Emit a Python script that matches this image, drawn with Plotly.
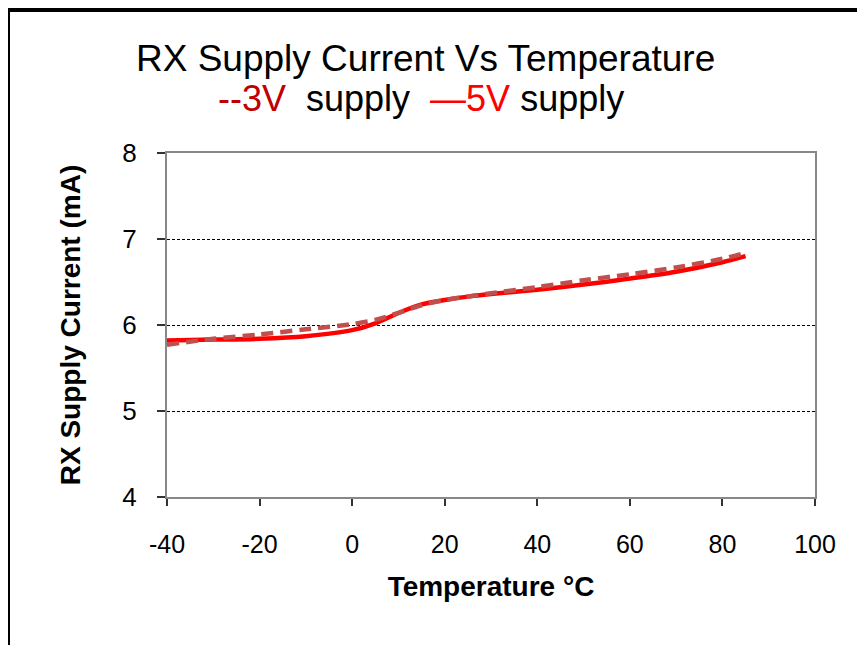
import plotly.graph_objects as go

temps = [-40, -30, -20, -10, 0, 5, 10, 15, 20, 25, 30, 40, 50, 60, 70, 80, 85]
supply_5v = [5.82, 5.83, 5.84, 5.87, 5.94, 6.02, 6.14, 6.24, 6.29, 6.33, 6.36, 6.41, 6.47, 6.54, 6.62, 6.73, 6.80]
supply_3v = [5.77, 5.84, 5.89, 5.95, 6.01, 6.06, 6.14, 6.23, 6.29, 6.33, 6.37, 6.44, 6.52, 6.59, 6.67, 6.77, 6.84]
x_ticks = [-40, -20, 0, 20, 40, 60, 80, 100]
x_tick_text = ["-40", "-20", "0", "20", "40", "60", "80", "100"]
y_ticks = [4, 5, 6, 7, 8]

W, H = 865, 645
OFF = 8  # page offset of the figure
L, T = 167 - OFF, 153 - OFF
pw, ph = 648, 344
R = W - L - pw
B = H - T - ph

def px(x_page):
    return (x_page - OFF - L) / pw

def py(y_page):
    return (H - B - (y_page - OFF)) / ph

fig = go.Figure()
fig.add_trace(go.Scatter(x=temps, y=supply_5v, mode="lines", name="5V supply",
                         line=dict(color="#FF0000", width=4.5, shape="spline", smoothing=0.8)))
fig.add_trace(go.Scatter(x=temps, y=supply_3v, mode="lines", name="3V supply",
                         line=dict(color="#C0504D", width=4.5, dash="12px,7px", shape="spline", smoothing=0.8)))

font = "Liberation Sans, Arial, sans-serif"
fig.update_layout(
    width=W, height=H,
    margin=dict(l=L, r=R, t=T, b=B, pad=0),
    paper_bgcolor="white", plot_bgcolor="white",
    showlegend=False,
    font=dict(family=font, color="black"),
)
fig.update_xaxes(range=[-40, 100], tickvals=x_ticks, ticktext=x_tick_text, ticks="outside", ticklen=7,
                 tickwidth=1.5, tickcolor="#333", showline=True, linecolor="#888", linewidth=2, mirror=True,
                 showgrid=False, zeroline=False, tickfont=dict(size=25, color="black"),
                 ticklabelstandoff=17,
                 title=dict(text="<b>Temperature °C</b>", font=dict(size=28), standoff=19))
fig.update_yaxes(range=[4, 8], tickvals=y_ticks, ticks="outside", ticklen=8, tickwidth=1.5,
                 tickcolor="#333", showline=True, linecolor="#888", linewidth=2, mirror=True,
                 showgrid=True, gridcolor="black", gridwidth=1, griddash="3px,2px", zeroline=False,
                 tickfont=dict(size=26, color="black"), ticklabelstandoff=15,
                 title=dict(text="<b>RX Supply Current (mA)</b>", font=dict(size=28), standoff=34))

fig.add_annotation(xref="paper", yref="paper", x=px(425), y=py(59), showarrow=False,
                   text="RX Supply Current Vs Temperature", font=dict(size=37, color="black"),
                   xanchor="center", yanchor="middle")
fig.add_annotation(xref="paper", yref="paper", x=px(421), y=py(99), showarrow=False,
                   text="<span style='color:#C00000'>--3V</span>  supply  <span style='color:#FF0000'>—5V</span> supply",
                   font=dict(size=36, color="black"), xanchor="center", yanchor="middle")

# outer frame (top and left edges)
fig.add_shape(type="rect", xref="paper", yref="paper", x0=px(0), x1=px(880), y0=py(6), y1=py(12),
              line=dict(width=0), fillcolor="black")
fig.add_shape(type="rect", xref="paper", yref="paper", x0=px(5), x1=px(10), y0=py(6), y1=py(660),
              line=dict(width=0), fillcolor="black")

fig.write_html("out.html")
